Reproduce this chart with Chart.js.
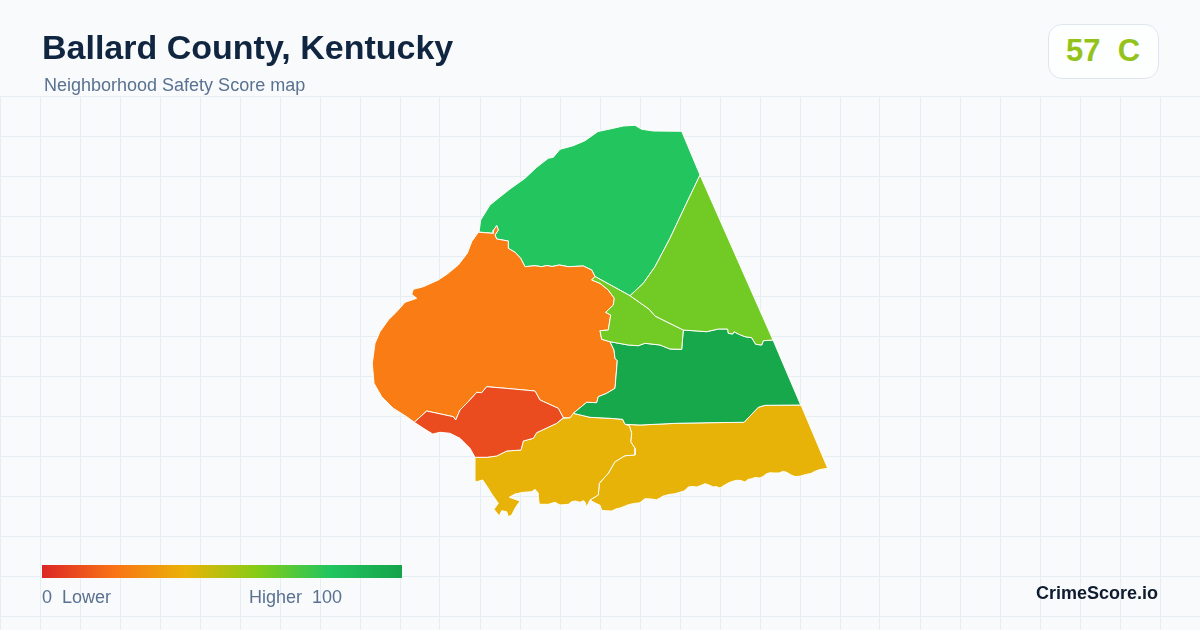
<!DOCTYPE html>
<html>
<head>
<meta charset="utf-8">
<script src="https://cdn.jsdelivr.net/npm/chart.js@4"></script>
<style>
html,body{margin:0;padding:0;background:#f8fafc;}
#wrap{position:relative;width:1200px;height:630px;overflow:hidden;font-family:"Liberation Sans",Arial,sans-serif;}
#c{position:absolute;left:0;top:0;}
.t{position:absolute;white-space:pre;line-height:1;}
#title{left:42px;top:30px;font-size:34px;font-weight:700;color:#10253f;}
#sub{left:44px;top:76px;font-size:18px;color:#5a7190;}
#badge{position:absolute;left:1048px;top:24px;width:109px;height:53px;border:1px solid #dfe5ee;border-radius:14px;background:#fdfefe;}
#score{left:1066px;top:35px;font-size:31px;font-weight:700;color:#93c31a;}
#bar{position:absolute;left:42px;top:565px;width:360px;height:13px;}
#lo{left:42px;top:588px;font-size:18px;color:#5a7190;}
#hi{left:249px;top:588px;font-size:18px;color:#5a7190;}
#brand{right:42px;top:584px;font-size:18px;font-weight:700;color:#0f1b2e;}
</style>
</head>
<body>
<div id="wrap">
<canvas id="c" width="1200" height="630"></canvas>
<div class="t" id="title"></div>
<div class="t" id="sub"></div>
<div id="badge"></div>
<div class="t" id="score"></div>
<div id="bar"></div>
<div class="t" id="lo"></div>
<div class="t" id="hi"></div>
<div class="t" id="brand"></div>
</div>
<script>
const titleText = "Ballard County, Kentucky";
const subtitleText = "Neighborhood Safety Score map";
const scoreText = "57  C";
const legendLow = "0  Lower";
const legendHigh = "Higher  100";
const brandText = "CrimeScore.io";
const rampColors = ["#dc2626","#f97316","#eab308","#84cc16","#22c55e","#16a34a"];

const gridX = [0,40,80,120,160,200,240,280,320,360,400,440,480,520,560,600,640,680,720,760,800,840,880,920,960,1000,1040,1080,1120,1160,1200];
const gridY = [96,136,176,216,256,296,336,376,416,456,496,536,576,616];

const northColor = "#22c55e";
const north = [[479,232],[480.7,220],[490,205],[498.3,198.3],[510,189],[525,178.3],[536.7,167.3],[548.3,158.3],[553.3,157.3],[560,149.3],[573.3,145.7],[585,140.7],[598,131.5],[610,129],[623.3,126],[635,125.3],[641.7,129.3],[653.3,131],[681.7,131.3],[700,175],[683.3,210],[670,238.3],[655,266.7],[643.3,283.3],[630,295.7],[595,276.5],[591.7,270],[583.3,266],[568.3,266.7],[559.3,265],[552,266.5],[547,265.5],[541.7,266.7],[535,265.7],[525,266.7],[520.7,258.3],[515,252.3],[508.3,248.3],[508.3,241],[496.7,239],[495,235],[498.3,230],[496.7,225.7],[493.7,230],[493.3,233.3],[479,232]];

const westColor = "#f97d14";
const west = [[478.3,232.3],[471.7,241.7],[467.3,253.3],[458.3,265],[447.3,274],[438.3,280],[423.3,286.7],[413.3,289.3],[411.7,294.3],[416.7,298.3],[405,302.3],[396.7,311.7],[388.3,320],[380,331.7],[375,343.3],[372.3,363.3],[374,383.3],[381.7,396.7],[393.3,408.3],[406.7,416.7],[414.3,422.3],[426.7,411],[453.3,416.7],[455.7,420],[460,410],[468.3,401.7],[476.7,392.3],[481.7,392.7],[486.7,386.7],[513.3,389],[535,391],[540,400],[558.3,408.3],[563.3,417.7],[570,417.7],[573.3,413.3],[586.7,402.3],[596.7,402.7],[598.3,396.7],[606.7,393.3],[615,388.3],[617.3,360.7],[615,358.3],[614,350],[610,341.7],[601.7,339.3],[600,330.7],[608.3,330],[610.7,315],[605.7,312.3],[613.3,305],[614.3,298.3],[608.3,290],[600,283.3],[591.7,280],[595,276.5],[591.7,270],[583.3,266],[568.3,266.7],[559.3,265],[552,266.5],[547,265.5],[541.7,266.7],[535,265.7],[525,266.7],[520.7,258.3],[515,252.3],[508.3,248.3],[508.3,241],[496.7,239],[495,235],[498.3,230],[496.7,225.7],[493.7,230],[493.3,233.3],[478.3,232.3]];

const eastLimeColor = "#72cb24";
const eastLime = [[700,175],[773,340],[763.3,340.7],[761.7,345],[755.7,344.3],[751.7,337.7],[745,336.7],[738.3,334],[734,331.7],[732.7,334],[728.3,333.3],[727.7,329],[718.3,329],[706.7,331.7],[683.3,330],[655,316],[649.3,309.3],[630,295.7],[643.3,283.3],[655,266.7],[670,238.3],[683.3,210],[700,175]];

const midLimeColor = "#72cb24";
const midLime = [[595,276.5],[630,295.7],[649.3,309.3],[655,316],[683.3,330],[681.7,349.3],[670,349],[660,345],[645,343.3],[638.3,345.7],[628.3,345],[610,341.7],[601.7,339.3],[600,330.7],[608.3,330],[610.7,315],[605.7,312.3],[613.3,305],[614.3,298.3],[608.3,290],[600,283.3],[591.7,280],[595,276.5]];

const darkGreenColor = "#16a84b";
const darkGreen = [[610,341.7],[628.3,345],[638.3,345.7],[645,343.3],[660,345],[670,349],[681.7,349.3],[683.3,330],[706.7,331.7],[718.3,329],[727.7,329],[728.3,333.3],[732.7,334],[734,331.7],[738.3,334],[745,336.7],[751.7,337.7],[755.7,344.3],[761.7,345],[763.3,340.7],[773,340],[800.7,405],[765,405.3],[758.3,407.3],[744,422.3],[710,422.7],[676.7,423.3],[640,425],[625,424.3],[622.7,419.3],[610,418.3],[590,417.3],[573.3,413.3],[586.7,402.3],[596.7,402.7],[598.3,396.7],[606.7,393.3],[615,388.3],[617.3,360.7],[615,358.3],[614,350],[610,341.7]];

const redColor = "#ea4c20";
const red = [[414.3,422.3],[426.7,411],[453.3,416.7],[455.7,420],[460,410],[468.3,401.7],[476.7,392.3],[481.7,392.7],[486.7,386.7],[513.3,389],[535,391],[540,400],[558.3,408.3],[563.3,417.7],[556.7,423.3],[536.7,432.7],[533.3,438.3],[523.3,441],[521,450],[506.7,451],[496.7,456],[486.7,457.3],[475,457.3],[470,448.3],[460,438.3],[450,433.3],[440,432.3],[432.7,434],[425,429.3],[414.3,422.3]];

const westGoldColor = "#e8b308";
const westGold = [[475,457.3],[486.7,457.3],[496.7,456],[506.7,451],[521,450],[523.3,441],[533.3,438.3],[536.7,432.7],[556.7,423.3],[563.3,418.3],[570,417.7],[573.3,413.3],[590,417.3],[610,418.3],[622.7,419.3],[625,424.3],[629.3,425.7],[631.7,433.3],[630.7,441.7],[635,448.3],[635,455],[625,455.7],[615,461.7],[608.3,473.3],[599.3,483.3],[598.3,495],[590,500],[588.5,503],[586.7,507.3],[585,502],[583.3,500.7],[580,502.3],[575,501],[571.7,501.7],[568.3,504.3],[560,505],[555,502.3],[548.3,504.3],[539.3,504.3],[538.3,496.7],[538.3,493.3],[535,489.3],[531.7,491.7],[523.3,492.3],[515,494],[509.3,497.3],[520,501],[515,508.3],[511.7,515],[508.3,516.7],[506.7,511.7],[501.7,510.7],[499.3,516],[494,509.3],[498.3,503.3],[491.7,494],[488.3,488.3],[482.7,480],[476.7,481.7],[475,481],[475,457.3]];

const eastGoldColor = "#e8b308";
const eastGold = [[625,424.3],[640,425],[676.7,423.3],[710,422.7],[744,422.3],[758.3,407.3],[765,405.3],[801,405],[827.7,468.3],[820,469.5],[815,471.3],[811,473.5],[808.3,474],[804,475],[800,476.3],[795,476.5],[791.7,475.3],[787,472.5],[783.3,471.3],[779,473],[775,473],[770,472.8],[766.7,473.7],[763,476.5],[760,478],[755,477.5],[751.7,478.7],[748,479.5],[745,482],[741,480.5],[736.7,480.3],[732,481.5],[728.3,483],[724,485.5],[720,488],[716,486.5],[713.3,487],[709,485],[705,483.7],[701,485.5],[696.7,487],[692,486.5],[688.3,487],[686,489.5],[683.3,491.3],[679,492.5],[675,493.7],[669,494.5],[663.3,496],[660,498],[656.7,499.7],[651,499],[645,498.7],[642,501],[640,502.7],[634,503.5],[628.3,504.7],[624,506.5],[620,508],[616,509],[611.7,511],[606,510.8],[601.7,510.3],[600,505.3],[595,503],[590,500],[598.3,495],[599.3,483.3],[608.3,473.3],[615,461.7],[625,455.7],[635,455],[635,448.3],[630.7,441.7],[631.7,433.3],[629.3,425.7],[625,424.3]];

const regions = [
  [eastLime, eastLimeColor],
  [midLime, midLimeColor],
  [darkGreen, darkGreenColor],
  [red, redColor],
  [west, westColor],
  [north, northColor],
  [westGold, westGoldColor],
  [eastGold, eastGoldColor]
];

document.getElementById('title').textContent = titleText;
document.getElementById('sub').textContent = subtitleText;
document.getElementById('score').textContent = scoreText;
document.getElementById('lo').textContent = legendLow;
document.getElementById('hi').textContent = legendHigh;
document.getElementById('brand').textContent = brandText;
document.getElementById('bar').style.background = 'linear-gradient(90deg,' + rampColors.join(',') + ')';

new Chart(document.getElementById('c'), {
  type: 'scatter',
  data: {
    datasets: regions.map(([pts, col]) => ({
      data: pts.map(([x, y]) => ({x, y})),
      showLine: true,
      fill: 'shape',
      tension: 0,
      pointRadius: 0,
      pointHoverRadius: 0,
      backgroundColor: col,
      borderColor: '#fdfdf8',
      borderWidth: 1,
      borderJoinStyle: 'round'
    }))
  },
  options: {
    responsive: false,
    animation: false,
    events: [],
    layout: {padding: {top: 96, left: 0, right: 0, bottom: 0}},
    plugins: {legend: {display: false}, title: {display: false}, tooltip: {enabled: false}},
    scales: {
      x: {
        type: 'linear', min: 0, max: 1200,
        afterBuildTicks: ax => { ax.ticks = gridX.map(value => ({value})); },
        grid: {color: '#e7eef3', lineWidth: 1, drawTicks: false},
        border: {display: false},
        ticks: {display: false}
      },
      y: {
        type: 'linear', min: 96, max: 630, reverse: true,
        afterBuildTicks: ax => { ax.ticks = gridY.map(value => ({value})); },
        grid: {color: '#e7eef3', lineWidth: 1, drawTicks: false},
        border: {display: false},
        ticks: {display: false}
      }
    }
  }
});
</script>
</body>
</html>
